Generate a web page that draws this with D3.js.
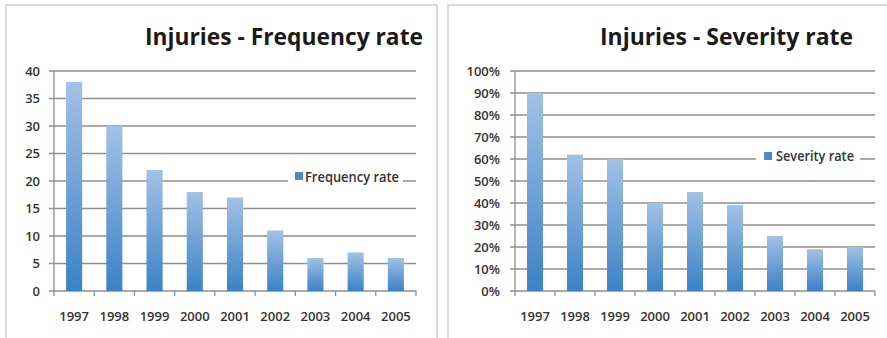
<!DOCTYPE html>
<html><head><meta charset="utf-8">
<script src="https://cdn.jsdelivr.net/npm/d3@7"></script>
<style>body{margin:0;background:#fff}svg{display:block}</style>
</head><body>
<script>
// ---- data ----
const years = ["1997","1998","1999","2000","2001","2002","2003","2004","2005"];
const frequencyRate = [38,30,22,18,17,11,6,7,6];
const severityRate = [0.90,0.62,0.60,0.40,0.45,0.39,0.25,0.19,0.20];
const frequencyTicks = [0,5,10,15,20,25,30,35,40];
const severityTicks = [0,0.1,0.2,0.3,0.4,0.5,0.6,0.7,0.8,0.9,1.0];
const titles = ["Injuries - Frequency rate","Injuries - Severity rate"];
const legendLabels = ["Frequency rate","Severity rate"];

// ---- layout ----
const W = 887, H = 338;
const svg = d3.select("body").append("svg").attr("width", W).attr("height", H);
const defs = svg.append("defs");
const grad = defs.append("linearGradient").attr("id","barGrad").attr("x1",0).attr("y1",0).attr("x2",0).attr("y2",1);
grad.append("stop").attr("offset","0%").attr("stop-color","#a3c1e6");
grad.append("stop").attr("offset","100%").attr("stop-color","#3b82c6");

const panels = [
  {values: frequencyRate, ticks: frequencyTicks, domain:[0,40], fmt: d=>String(d),
   title: titles[0], legend: legendLabels[0],
   box:{x:6,y:5,w:431,h:345}, plot:{x0:54,x1:416,y0:71,y1:291}, labelX:40,
   titleRight:423, titleW:278, titleY:45,
   leg:{gx0:288,gx1:403,sq:295,sy:172,tx:305,ty:182,tw:94}},
  {values: severityRate, ticks: severityTicks, domain:[0,1], fmt: d3.format(".0%"),
   title: titles[1], legend: legendLabels[1],
   box:{x:448,y:5,w:450,h:345}, plot:{x0:515,x1:875,y0:71,y1:291}, labelX:500,
   titleRight:853, titleW:253, titleY:45,
   leg:{gx0:756,gx1:860,sq:764,sy:152,tx:776,ty:161,tw:78}}
];

const font = "'Open Sans', 'DejaVu Sans', sans-serif";

panels.forEach(p => {
  const g = svg.append("g");
  g.append("rect").attr("x",p.box.x).attr("y",p.box.y).attr("width",p.box.w).attr("height",p.box.h)
    .attr("fill","#fff").attr("stroke","#cfcfcf").attr("stroke-width",1.5);

  const x = d3.scaleBand().domain(years).range([p.plot.x0,p.plot.x1]).paddingInner(0.6).paddingOuter(0.3);
  const y = d3.scaleLinear().domain(p.domain).range([p.plot.y1,p.plot.y0]);

  // gridlines
  g.selectAll(".grid").data(p.ticks).join("line")
    .attr("x1",p.plot.x0-5).attr("x2",p.plot.x1)
    .attr("y1",d=>y(d)).attr("y2",d=>y(d))
    .attr("stroke","#8e8e8e").attr("stroke-width",1.3);
  // y axis line
  g.append("line").attr("x1",p.plot.x0).attr("x2",p.plot.x0).attr("y1",p.plot.y0).attr("y2",p.plot.y1)
    .attr("stroke","#8e8e8e").attr("stroke-width",1.3);
  // x tick marks at band boundaries
  const bounds = d3.range(years.length+1).map(i => p.plot.x0 + i*(p.plot.x1-p.plot.x0)/years.length);
  g.selectAll(".xt").data(bounds).join("line")
    .attr("x1",d=>d).attr("x2",d=>d).attr("y1",p.plot.y1).attr("y2",p.plot.y1+5)
    .attr("stroke","#8e8e8e").attr("stroke-width",1.3);

  // y labels
  g.selectAll(".yl").data(p.ticks).join("text")
    .attr("x",p.labelX).attr("y",d=>y(d)).attr("dy","0.36em")
    .attr("text-anchor","end").attr("font-family",font).attr("font-size",13).attr("font-weight",600)
    .attr("fill","#333").text(p.fmt);

  // x labels
  g.selectAll(".xl").data(years).join("text")
    .attr("x",d=>x(d)+x.bandwidth()/2).attr("y",321)
    .attr("text-anchor","middle").attr("font-family",font).attr("font-size",13).attr("font-weight",600)
    .attr("fill","#333").text(d=>d);

  // bars
  g.selectAll(".bar").data(p.values).join("rect")
    .attr("x",(d,i)=>x(years[i])).attr("width",x.bandwidth())
    .attr("y",d=>y(d)).attr("height",d=>p.plot.y1-y(d))
    .attr("fill","url(#barGrad)");

  // legend
  const L = p.leg;
  g.append("rect").attr("x",L.gx0).attr("y",L.sy-8).attr("width",L.gx1-L.gx0).attr("height",24).attr("fill","#fff");
  g.append("rect").attr("x",L.sq).attr("y",L.sy).attr("width",8).attr("height",8).attr("fill","#4a8bce");
  g.append("text").attr("x",L.tx).attr("y",L.ty).attr("font-family",font).attr("font-size",13.5).attr("font-weight",600)
    .attr("fill","#333").attr("textLength",L.tw).attr("lengthAdjust","spacingAndGlyphs").text(p.legend);

  // title
  g.append("text").attr("x",p.titleRight).attr("y",p.titleY).attr("text-anchor","end")
    .attr("font-family",font).attr("font-weight","bold").attr("font-size",23)
    .attr("fill","#1a1a1a").attr("textLength",p.titleW).attr("lengthAdjust","spacingAndGlyphs")
    .text(p.title);
});
</script>
</body></html>
